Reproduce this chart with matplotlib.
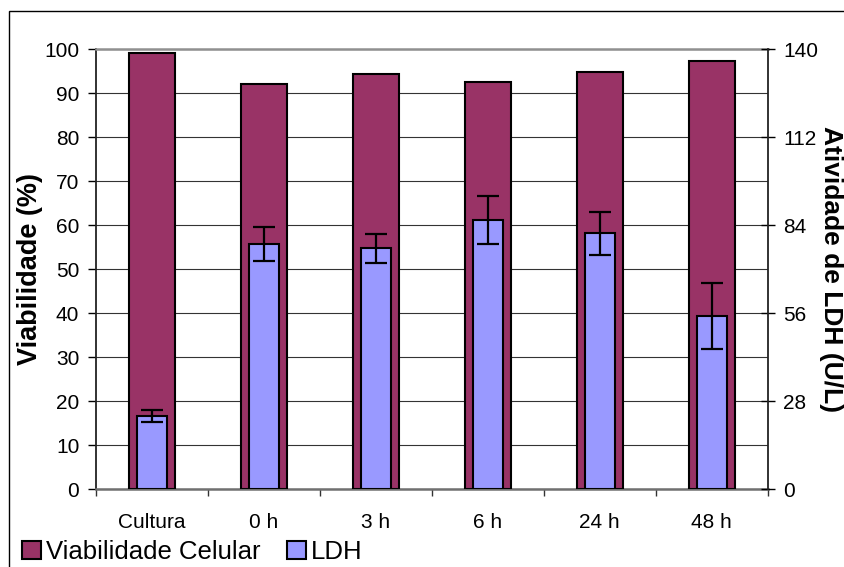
import matplotlib.pyplot as plt
import numpy as np
from matplotlib.patches import Patch, Rectangle

plt.rcParams['font.family'] = ['Liberation Sans', 'DejaVu Sans']

# dados
categorias = ['Cultura', '0 h', '3 h', '6 h', '24 h', '48 h']
viabilidade = [99.1, 92.1, 94.4, 92.5, 94.8, 97.4]
ldh = [23.3, 77.9, 76.7, 85.7, 81.5, 55.1]
ldh_erro = [1.8, 5.4, 4.6, 7.5, 6.8, 10.6]

cor_viab = '#993366'
cor_ldh = '#9999FF'

fig = plt.figure(figsize=(8.45, 5.67), dpi=100)
ax = fig.add_axes([96/845, 1-489.3/567, (767.7-96)/845, (489.3-49.3)/567])
ax2 = ax.twinx()

x = np.arange(len(categorias))

ax.bar(x, viabilidade, width=0.41, color=cor_viab, edgecolor='black', linewidth=1.5, zorder=3)
ax.set_ylim(0, 100)
ax.set_xlim(-0.5, len(categorias) - 0.5)
ax.set_yticks(np.arange(0, 101, 10))
ax.yaxis.grid(True, color='#333333', linewidth=0.8)
ax.set_axisbelow(True)
ax.tick_params(axis='y', labelsize=15, direction='out', length=6, width=1, pad=6)
ax.set_ylabel('Viabilidade (%)', fontsize=19.5, fontweight='bold', labelpad=1)

# ticks do eixo x entre as categorias
ax.set_xticks(np.arange(-0.5, len(categorias), 1))
ax.set_xticklabels([])
ax.set_xticks(x, minor=True)
ax.set_xticklabels(categorias, minor=True)
ax.tick_params(axis='x', which='major', direction='out', length=5, width=1, color='#333333')
ax.tick_params(axis='x', which='minor', length=0, labelsize=15, pad=17)

ax.spines['top'].set_color('#909090')
ax.spines['top'].set_linewidth(1.8)
ax.spines['bottom'].set_color('#707070')
ax.spines['bottom'].set_linewidth(1.8)
ax.spines['left'].set_color('#222222')
ax.spines['left'].set_linewidth(1.3)
ax.spines['right'].set_visible(False)

ax2.bar(x, ldh, width=0.27, color=cor_ldh, edgecolor='black', linewidth=1.5, zorder=3)
ax2.errorbar(x, ldh, yerr=ldh_erro, fmt='none', ecolor='black', elinewidth=1.6,
             capsize=8, capthick=1.6, zorder=4)
ax2.set_ylim(0, 140)
ax2.set_yticks(np.arange(0, 141, 28))
ax2.tick_params(axis='y', labelsize=15, direction='inout', length=10, width=1, pad=6)
ax2.set_ylabel('Atividade de LDH (U/L)', fontsize=19, fontweight='bold', rotation=-90, labelpad=18)
for s in ['top', 'bottom', 'left']:
    ax2.spines[s].set_visible(False)
ax2.spines['right'].set_color('#222222')
ax2.spines['right'].set_linewidth(1.3)

handles = [Patch(facecolor=cor_viab, edgecolor='black', linewidth=1.5),
           Patch(facecolor=cor_ldh, edgecolor='black', linewidth=1.5)]
fig.legend(handles, ['Viabilidade Celular', 'LDH'], loc='center left',
           bbox_to_anchor=(22/845, 1-552/567), ncol=2, frameon=False, fontsize=18.5,
           handlelength=0.75, handleheight=0.75, handletextpad=0.2, columnspacing=1.0,
           borderpad=0, borderaxespad=0)

fig.add_artist(Rectangle((9.5/845, -0.1), 1.2, 1.1 - 10.5/567, transform=fig.transFigure,
                         fill=False, edgecolor='black', linewidth=1))

plt.savefig('out.png')
